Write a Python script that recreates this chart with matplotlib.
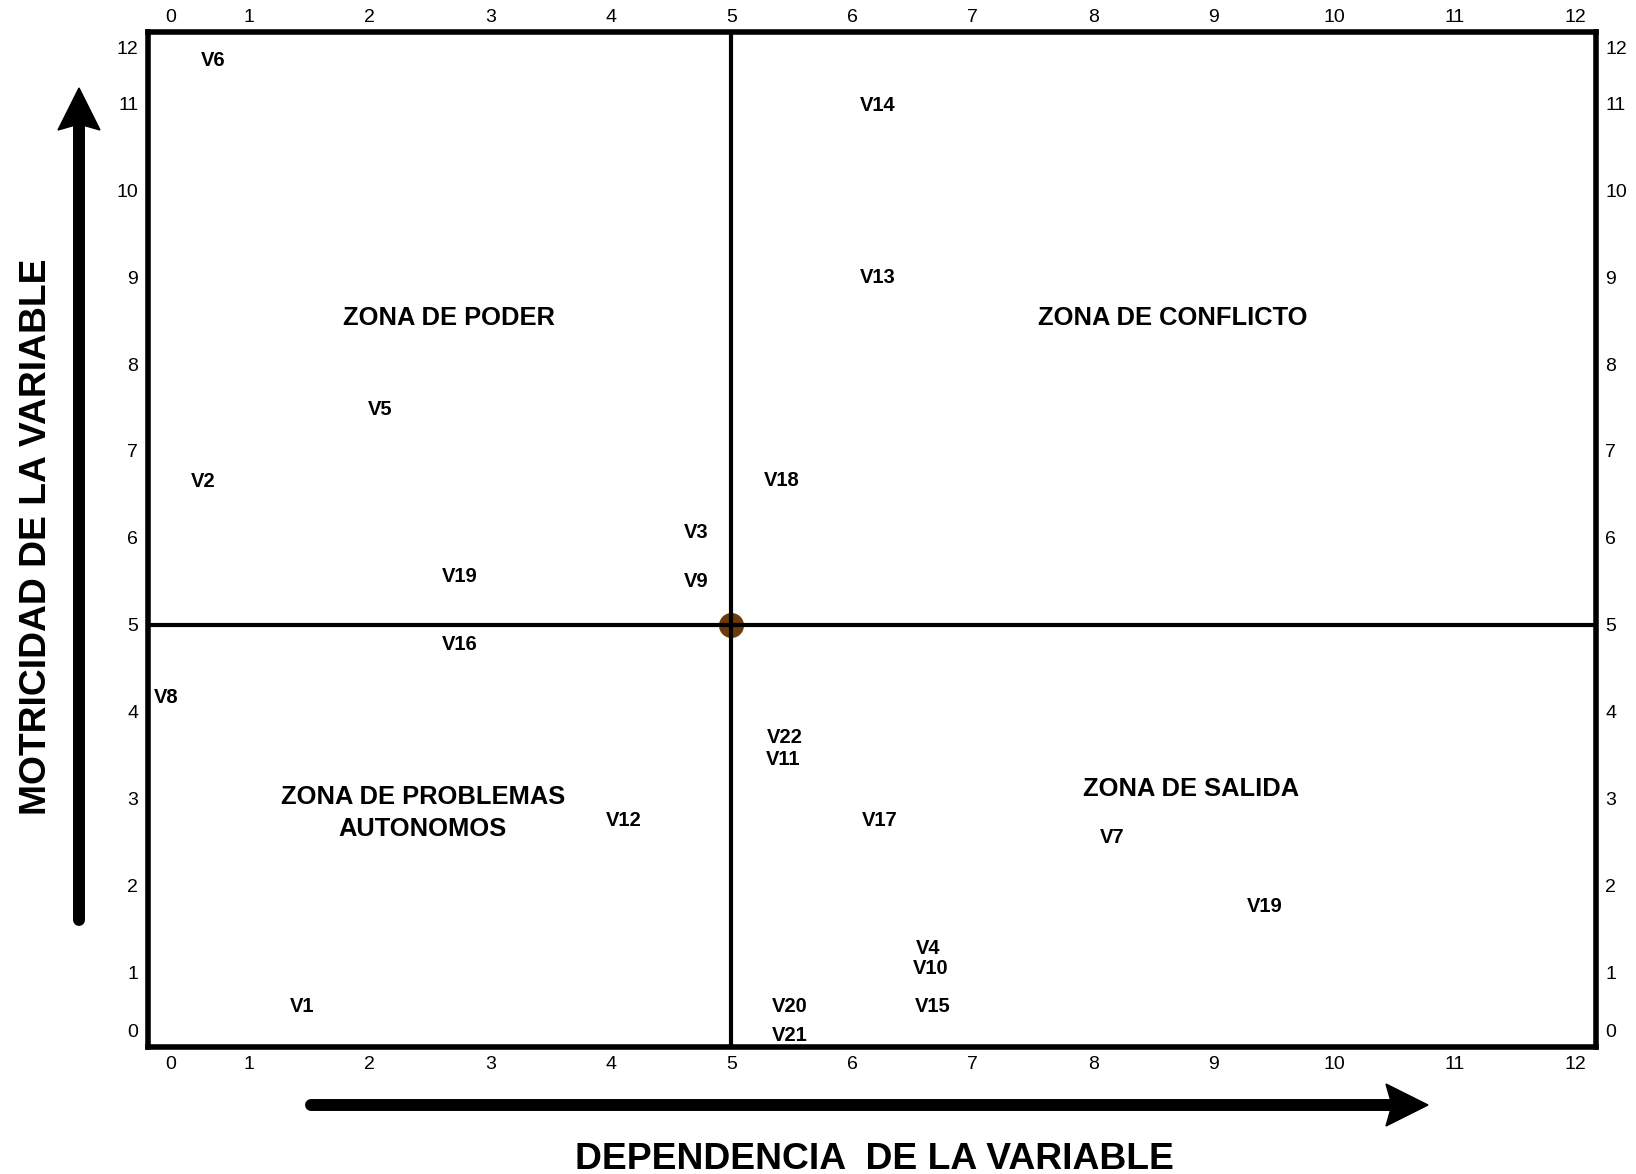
import matplotlib
matplotlib.use("Agg")
import matplotlib.pyplot as plt
from matplotlib.lines import Line2D
from matplotlib.patches import Polygon
from matplotlib.transforms import offset_copy

plt.rcParams["font.family"] = ["Liberation Sans", "DejaVu Sans"]

# ── Data ──────────────────────────────────────────────────────────────────────

var_labels = ["V6", "V14", "V13", "V5", "V2", "V18", "V3", "V9", "V19", "V16",
              "V8", "V22", "V11", "V12", "V17", "V7", "V19", "V4", "V10",
              "V15", "V20", "V21", "V1"]
dependencia = [0.70, 6.21, 6.21, 2.09, 0.62, 5.42, 4.71, 4.71, 2.75, 2.75,
               0.31, 5.44, 5.43, 4.11, 6.23, 8.16, 9.42, 6.63, 6.65,
               6.67, 5.48, 5.48, 1.44]
motricidad = [11.52, 11.00, 9.02, 7.51, 6.68, 6.69, 6.09, 5.53, 5.59, 4.81,
              4.20, 3.74, 3.48, 2.78, 2.78, 2.58, 1.79, 1.31, 1.08,
              0.64, 0.64, 0.31, 0.64]

zone_names = ["ZONA DE PODER", "ZONA DE CONFLICTO",
              "ZONA DE PROBLEMAS\nAUTONOMOS", "ZONA DE SALIDA"]
zone_x = [2.66, 8.66, 2.44, 8.81]
zone_y = [8.56, 8.56, 2.87, 3.14]

# tick labels (0 and 12 are squeezed inside the frame in the original)
xtick_pos = [0.35, 1, 2, 3, 4, 5, 6, 7, 8, 9, 10, 11, 12]
ytick_pos = [0.34, 1, 2, 3, 4, 5, 6, 7, 8, 9, 10, 11, 11.64]
tick_text = [str(i) for i in range(13)]

cut_x, cut_y = 5, 5


# ── Figure ────────────────────────────────────────────────────────────────────

fig = plt.figure(figsize=(16.36, 11.74), dpi=100)
ax = fig.add_axes([0.0905, 0.1085, 0.8849, 0.8645])
ax.set_xlim(0.163, 12.166)
ax.set_ylim(0.153, 11.82)

for side in ax.spines.values():
    side.set_linewidth(4)
    side.set_color("black")

ax.set_xticks(xtick_pos)
ax.set_xticklabels(tick_text)
ax.set_yticks(ytick_pos)
ax.set_yticklabels(tick_text)
ax.tick_params(axis="x", length=0, pad=7, labelsize=14)
ax.tick_params(axis="y", length=0, pad=7, labelsize=14,
               right=True, labelright=True)

# top labels sit closer to the frame than the bottom ones
top = ax.secondary_xaxis("top")
top.set_xticks(xtick_pos)
top.set_xticklabels(tick_text)
top.tick_params(length=0, pad=4, labelsize=14)
top.spines["top"].set_visible(False)

# quadrant lines + centre point
ax.axvline(cut_x, color="black", lw=3, zorder=3)
ax.axhline(cut_y, color="black", lw=3, zorder=3)
ax.plot([cut_x], [cut_y], "o", ms=17, color="#6e3a0c", zorder=2)

# text sits a touch low in the original
txt_tr = offset_copy(ax.transData, fig=fig, y=-2.5, units="dots")

# variables
for lab, xv, yv in zip(var_labels, dependencia, motricidad):
    ax.text(xv, yv, lab, ha="center", va="center", transform=txt_tr,
            fontsize=14.5, fontweight="bold")

# zones
for name, xv, yv in zip(zone_names, zone_x, zone_y):
    ax.text(xv, yv, name, ha="center", va="center", transform=txt_tr,
            fontsize=18.4, fontweight="bold", linespacing=1.4)


# ── Arrows (drawn in inches so the heads stay symmetric) ──────────────────────

def big_arrow(x0, y0, x1, y1, head=0.42, shaft=8.6):
    tr = fig.dpi_scale_trans
    dx, dy = x1 - x0, y1 - y0
    n = (dx ** 2 + dy ** 2) ** 0.5
    ux, uy = dx / n, dy / n
    px, py = -uy, ux
    bx, by = x1 - ux * head, y1 - uy * head
    fig.add_artist(Line2D([x0, bx + ux * 0.05], [y0, by + uy * 0.05],
                          lw=shaft, color="black",
                          solid_capstyle="round", transform=tr))
    pts = [(x1, y1),
           (bx + px * head / 2, by + py * head / 2),
           (bx + ux * 0.06, by + uy * 0.06),
           (bx - px * head / 2, by - py * head / 2)]
    fig.add_artist(Polygon(pts, closed=True, color="black", transform=tr))


big_arrow(0.79, 2.54, 0.79, 10.86)
big_arrow(3.11, 0.69, 14.28, 0.69)

fig.text(0.5345, 0.0045, "DEPENDENCIA  DE LA VARIABLE", ha="center",
         va="baseline", fontsize=26.8, fontweight="bold")
fig.text(0.0283, 0.5426, "MOTRICIDAD DE LA VARIABLE", ha="center",
         va="baseline", rotation=90, rotation_mode="anchor",
         fontsize=26.8, fontweight="bold")

fig.savefig("out.png", dpi=100)
